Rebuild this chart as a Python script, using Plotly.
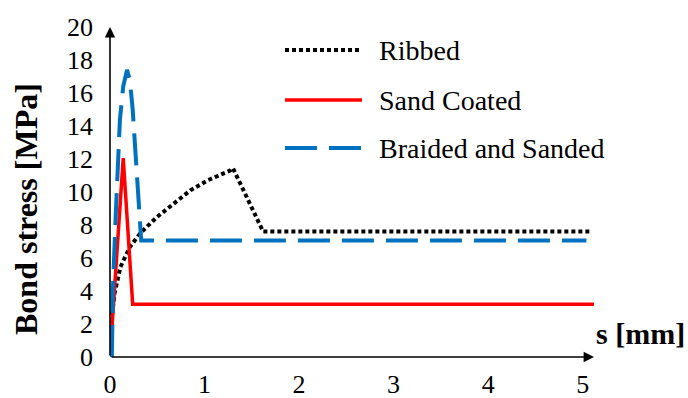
import plotly.graph_objects as go

# ---- data ----
ribbed_s = [0, 0.02, 0.05, 0.11, 0.21, 0.32, 0.50, 0.67, 0.85, 1.03, 1.27, 1.30, 1.62, 5.10]
ribbed_t = [0, 2.5, 3.9, 5.45, 6.67, 7.5, 8.5, 9.3, 10.1, 10.7, 11.3, 11.45, 7.6, 7.6]

sand_s = [0, 0.14, 0.24, 5.15]
sand_t = [0, 12.05, 3.2, 3.2]

braid_s = [0.02, 0.03, 0.06, 0.085, 0.105, 0.14, 0.18, 0.21, 0.24, 0.275, 0.31, 0.33, 5.04]
braid_t = [0, 4.0, 8.5, 11.8, 14.4, 16.4, 17.4, 16.8, 15.0, 11.9, 9.2, 7.06, 7.06]

series_names = ["Ribbed", "Sand Coated", "Braided and Sanded"]
x_ticks = [0, 1, 2, 3, 4, 5]
y_ticks = [0, 2, 4, 6, 8, 10, 12, 14, 16, 18, 20]

FONT = "Liberation Serif"
BLUE = "#0070C0"
RED = "#FF0000"

styles = [
    dict(color="black", width=4, dash="4px,3px"),
    dict(color=RED, width=3.5, dash="solid"),
    dict(color=BLUE, width=4, dash="32px,12px"),
]

fig = go.Figure()
fig.add_trace(go.Scatter(x=ribbed_s, y=ribbed_t, mode="lines", name=series_names[0],
                         line=styles[0], showlegend=False))
fig.add_trace(go.Scatter(x=sand_s, y=sand_t, mode="lines", name=series_names[1],
                         line=styles[1], showlegend=False))
fig.add_trace(go.Scatter(x=braid_s, y=braid_t, mode="lines", name=series_names[2],
                         line=styles[2], showlegend=False))

# plot-area geometry (pixels)
L, R, T, B = 110, 94, 27, 41
W, H = 688, 398
pw, ph = W - L - R, H - T - B

def px(p):
    return (p - L) / pw

def py(q):
    return (H - B - q) / ph

shapes = []
annotations = []
# manual legend
rows = [50, 100, 148]
for name, st, yrow in zip(series_names, styles, rows):
    shapes.append(dict(type="line", xref="paper", yref="paper",
                       x0=px(285), x1=px(362), y0=py(yrow), y1=py(yrow),
                       line=dict(color=st["color"], width=st["width"], dash=st["dash"])))
    annotations.append(dict(xref="paper", yref="paper", x=px(377), y=py(yrow),
                            xanchor="left", yanchor="middle", showarrow=False,
                            text=name, font=dict(family=FONT, size=28, color="black")))

# axis arrows
annotations.append(dict(xref="x", yref="y", axref="x", ayref="y", x=5.12, y=0, ax=0, ay=0,
                        showarrow=True, arrowhead=2, arrowsize=1.3, arrowwidth=1.6,
                        arrowcolor="black", text=""))
annotations.append(dict(xref="x", yref="y", axref="x", ayref="y", x=0, y=20, ax=0, ay=0,
                        showarrow=True, arrowhead=2, arrowsize=1.3, arrowwidth=1.6,
                        arrowcolor="black", text=""))
# axis titles
annotations.append(dict(xref="paper", yref="paper", x=px(640), y=py(333),
                        xanchor="center", yanchor="middle", showarrow=False,
                        text="<b>s [mm]</b>", font=dict(family=FONT, size=30, color="black")))
annotations.append(dict(xref="paper", yref="paper", x=px(26), y=py(209),
                        xanchor="center", yanchor="middle", showarrow=False, textangle=-90,
                        text="<b>Bond stress [MPa]</b>", font=dict(family=FONT, size=32, color="black")))

fig.update_layout(
    width=W, height=H,
    margin=dict(l=L, r=R, t=T, b=B, pad=0, autoexpand=False),
    paper_bgcolor="white", plot_bgcolor="white",
    shapes=shapes, annotations=annotations,
    showlegend=False,
    xaxis=dict(range=[0, 5.12], tickvals=x_ticks, ticktext=[str(v) for v in x_ticks],
               showgrid=False, zeroline=False, showline=False, ticks="", automargin=False,
               ticklabelstandoff=9,
               tickfont=dict(family=FONT, size=26, color="black")),
    yaxis=dict(range=[0, 20], tickvals=y_ticks, ticktext=[str(v) for v in y_ticks],
               showgrid=False, zeroline=False, showline=False, ticks="", automargin=False,
               ticklabelstandoff=16,
               tickfont=dict(family=FONT, size=26, color="black")),
)

fig.write_html("out.html", config={"displayModeBar": False},
               post_script="document.body.style.margin='0';document.body.style.overflow='hidden';")
